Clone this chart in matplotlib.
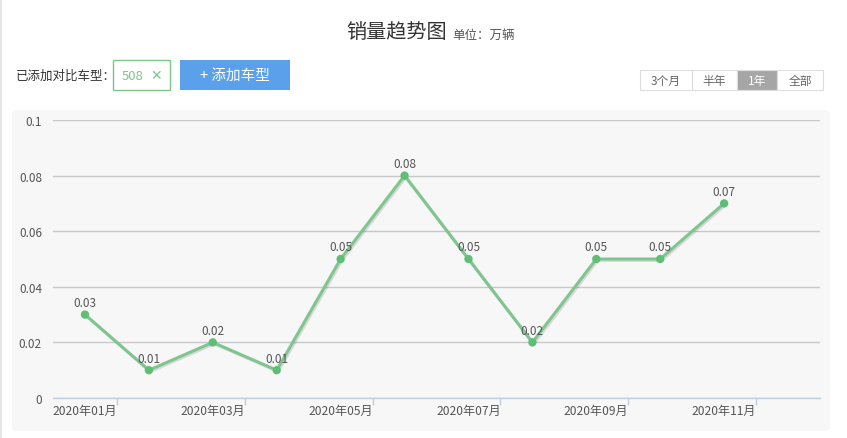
import matplotlib
matplotlib.use("Agg")
import matplotlib.pyplot as plt
from matplotlib.patches import FancyBboxPatch, Rectangle
import matplotlib.patheffects as pe

plt.rcParams['font.family'] = ['Noto Sans CJK SC', 'DejaVu Sans']

months = ['2020年01月', '2020年02月', '2020年03月', '2020年04月', '2020年05月', '2020年06月',
          '2020年07月', '2020年08月', '2020年09月', '2020年10月', '2020年11月', '2020年12月']
sales = [0.03, 0.01, 0.02, 0.01, 0.05, 0.08, 0.05, 0.02, 0.05, 0.05, 0.07]
yticks = [0, 0.02, 0.04, 0.06, 0.08, 0.1]
ytick_labels = ['0', '0.02', '0.04', '0.06', '0.08', '0.1']
range_buttons = ['3个月', '半年', '1年', '全部']
selected_range = '1年'
title = '销量趋势图'
unit = '单位：万辆'
compare_label = '已添加对比车型：'
compare_model = '508'
add_button = '+ 添加车型'

W, H = 847, 439
fig = plt.figure(figsize=(W / 100, H / 100), dpi=100)
fig.patch.set_facecolor('white')

def fx(px):
    return px / W

def fy(py):
    return 1 - py / H

# left thin border of page
fig.add_artist(Rectangle((0, 0), fx(1.5), 1, transform=fig.transFigure,
                         facecolor='#e6e6e6', edgecolor='none'))

# chart panel background
panel = FancyBboxPatch((fx(12), fy(432)), fx(818), fy(111) - fy(432),
                       boxstyle='round,pad=0,rounding_size=0.008',
                       transform=fig.transFigure, facecolor='#f7f7f7',
                       edgecolor='none', zorder=0)
fig.add_artist(panel)

# title
fig.text(fx(397), fy(33), title, ha='center', va='center', fontsize=14.5, color='#333333')
fig.text(fx(452), fy(35), unit, ha='left', va='center', fontsize=9, color='#555555')

# compare label
fig.text(fx(16), fy(76), compare_label, ha='left', va='center', fontsize=9, color='#333333')
fig.add_artist(Rectangle((fx(112.5), fy(90.5)), fx(57), fy(61) - fy(90.5),
                         transform=fig.transFigure, facecolor='white',
                         edgecolor='#7cc68a', linewidth=1))
fig.text(fx(133), fy(76), compare_model, ha='center', va='center', fontsize=9.5, color='#7cc68a')
fig.text(fx(156), fy(76), '✕', ha='center', va='center', fontsize=10, color='#7cc68a',
         family=['DejaVu Sans'])
fig.add_artist(Rectangle((fx(180), fy(90.5)), fx(110), fy(61) - fy(90.5),
                         transform=fig.transFigure, facecolor='#5aa0ea',
                         edgecolor='none'))
fig.text(fx(235), fy(75.5), add_button, ha='center', va='center', fontsize=10.5, color='white')

# range buttons
edges = [640, 692, 737, 777, 823]
for i, lab in enumerate(range_buttons):
    x0, x1 = edges[i], edges[i + 1]
    sel = lab == selected_range
    fig.add_artist(Rectangle((fx(x0), fy(90.5)), fx(x1 - x0), fy(71) - fy(90.5),
                             transform=fig.transFigure,
                             facecolor='#a6a6a6' if sel else 'white',
                             edgecolor='#dddddd', linewidth=0.8))
    fig.text(fx((x0 + x1) / 2), fy(81), lab, ha='center', va='center', fontsize=8.5,
             color='white' if sel else '#666666')

# main axes
ax = fig.add_axes([fx(53), fy(399), fx(820 - 53), fy(121) - fy(399)])
ax.set_facecolor('none')
x = list(range(len(sales)))
ax.set_xlim(-0.5, len(months) - 0.5)
ax.set_ylim(0, 0.1)

ax.set_yticks(yticks)
ax.set_yticklabels(ytick_labels)
ax.yaxis.grid(True, color='#c8c8c8', linewidth=1)
ax.set_axisbelow(True)

for s in ['top', 'right', 'left']:
    ax.spines[s].set_visible(False)
ax.spines['bottom'].set_color('#c0cfe0')
ax.spines['bottom'].set_linewidth(1)

ax.set_xticks(list(range(0, len(months), 2)))
ax.set_xticklabels([months[i] for i in range(0, len(months), 2)])
ax.set_xticks([i + 0.5 for i in range(0, len(months), 2)], minor=True)
ax.tick_params(axis='x', which='major', length=0, pad=4.5, labelsize=8.7, labelcolor='#555555')
ax.tick_params(axis='x', which='minor', length=5, color='#c0cfe0', width=1)
ax.tick_params(axis='y', length=0, pad=8, labelsize=8.5, labelcolor='#555555')

ax.plot(x, sales, color='#7ec68e', linewidth=2.2, zorder=3,
        path_effects=[pe.SimpleLineShadow(offset=(1.0, -1.0), shadow_color='black', alpha=0.12),
                      pe.Normal()])
ax.scatter(x, sales, s=36, color='#5dbf75', zorder=4, edgecolors='none')

for xi, v in zip(x, sales):
    ax.annotate(f'{v:.2f}', (xi, v), xytext=(0, 4), textcoords='offset points',
                ha='center', va='bottom', fontsize=8.5, color='#555555', zorder=5)

fig.savefig('out.png', dpi=100)
